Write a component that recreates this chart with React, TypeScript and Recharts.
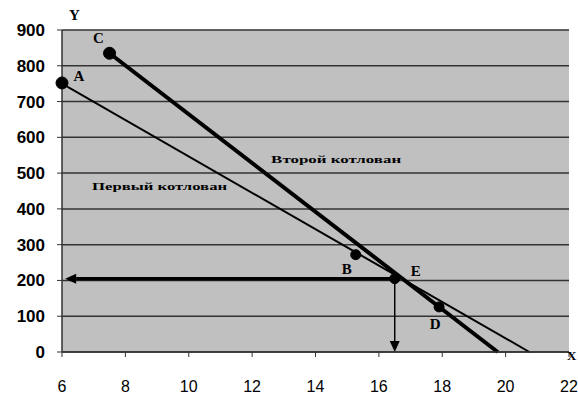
import React from 'react';
import {
  ComposedChart,
  Line,
  XAxis,
  YAxis,
  CartesianGrid,
  ReferenceDot,
  ReferenceLine,
} from 'recharts';

// two excavation lines (x, y end points)
const firstX = [6, 20.75];
const firstY = [750, 0];
const secondX = [7.5, 19.75];
const secondY = [835, 0];

// named points
const pointNames = ['A', 'B', 'C', 'D', 'E'];
const pointX = [6, 15.27, 7.5, 17.9, 16.5];
const pointY = [752, 272, 835, 126, 205];

const xTicks = [6, 8, 10, 12, 14, 16, 18, 20, 22];
const yTicks = [0, 100, 200, 300, 400, 500, 600, 700, 800, 900];

const firstData = firstX.map((x, i) => ({ x, y: firstY[i] }));
const secondData = secondX.map((x, i) => ({ x, y: secondY[i] }));

const labelOffset: Record<string, { dx: number; dy: number }> = {
  A: { dx: 17, dy: -5 },
  B: { dx: -9, dy: 16 },
  C: { dx: -11, dy: -14 },
  D: { dx: -4, dy: 19 },
  E: { dx: 21, dy: -6 },
};
const dotRadius: Record<string, number> = { A: 6, B: 5, C: 6, D: 5, E: 5 };

const serif = '"Liberation Serif", "DejaVu Serif", serif';
const sans = '"Liberation Sans", Arial, sans-serif';

const PointLabel = (name: string) => (props: any) => {
  const { viewBox } = props;
  const cx = viewBox.x + viewBox.width / 2;
  const cy = viewBox.y + viewBox.height / 2;
  const o = labelOffset[name];
  return (
    <text
      x={cx + o.dx}
      y={cy + o.dy}
      textAnchor="middle"
      dominantBaseline="middle"
      fontFamily={serif}
      fontWeight="bold"
      fontSize={15}
      fill="#000"
    >
      {name}
    </text>
  );
};

const TextLabel = (value: string, dx: number, dy: number, size: number, len?: number) => (props: any) => {
  const { viewBox } = props;
  const cx = viewBox.x + viewBox.width / 2;
  const cy = viewBox.y + viewBox.height / 2;
  return (
    <text
      x={cx + dx}
      y={cy + dy}
      textAnchor="start"
      dominantBaseline="middle"
      fontFamily={serif}
      fontWeight="bold"
      fontSize={size}
      fill="#000"
      textLength={len}
      lengthAdjust={len ? 'spacingAndGlyphs' : undefined}
    >
      {value}
    </text>
  );
};

const Arrow = (width: number) => (props: any) => {
  const { x1, y1, x2, y2 } = props;
  const ang = Math.atan2(y2 - y1, x2 - x1);
  const len = 11;
  const half = 5;
  const bx = x2 - len * Math.cos(ang);
  const by = y2 - len * Math.sin(ang);
  const px = -Math.sin(ang) * half;
  const py = Math.cos(ang) * half;
  return (
    <g>
      <line x1={x1} y1={y1} x2={bx} y2={by} stroke="#000" strokeWidth={width} />
      <polygon points={`${x2},${y2} ${bx + px},${by + py} ${bx - px},${by - py}`} fill="#000" />
    </g>
  );
};

export default function App() {
  return (
    <div style={{ position: 'absolute', left: 0, top: 0, background: '#fff' }}>
      <ComposedChart width={578} height={394} margin={{ top: 30, right: 9, bottom: 0, left: 0 }}>
        <CartesianGrid vertical={false} fill="#c0c0c0" stroke="#333" strokeWidth={1.5} />
        <XAxis
          type="number"
          dataKey="x"
          domain={[6, 22]}
          ticks={xTicks}
          allowDataOverflow
          height={42}
          tickSize={5}
          tickMargin={24}
          axisLine={{ stroke: '#333', strokeWidth: 1.5 }}
          tickLine={{ stroke: '#333' }}
          tick={{ fill: '#000', fontSize: 16, fontFamily: sans }}
        />
        <YAxis
          type="number"
          dataKey="y"
          domain={[0, 900]}
          ticks={yTicks}
          width={62}
          tickSize={5}
          tickMargin={12}
          axisLine={{ stroke: '#333', strokeWidth: 1.5 }}
          tickLine={{ stroke: '#333' }}
          tick={{ fill: '#000', fontSize: 17, fontWeight: 'bold', fontFamily: sans }}
        />
        <Line
          data={firstData}
          dataKey="y"
          stroke="#000"
          strokeWidth={2}
          dot={false}
          isAnimationActive={false}
        />
        <Line
          data={secondData}
          dataKey="y"
          stroke="#000"
          strokeWidth={4}
          dot={false}
          isAnimationActive={false}
        />
        <ReferenceLine
          segment={[{ x: 16.5, y: 205 }, { x: 6.1, y: 205 }]}
          ifOverflow="visible"
          shape={Arrow(3.5)}
        />
        <ReferenceLine
          segment={[{ x: 16.5, y: 205 }, { x: 16.5, y: 0 }]}
          ifOverflow="visible"
          shape={Arrow(1.5)}
        />
        {pointNames.map((name, i) => (
          <ReferenceDot
            key={name}
            x={pointX[i]}
            y={pointY[i]}
            r={dotRadius[name]}
            fill="#000"
            stroke="#000"
            ifOverflow="visible"
            label={PointLabel(name)}
          />
        ))}
        <ReferenceDot x={12.6} y={536} r={0} ifOverflow="visible" label={TextLabel('Второй котлован', 0, 0, 11, 130)} />
        <ReferenceDot x={6.95} y={461} r={0} ifOverflow="visible" label={TextLabel('Первый котлован', 0, 0, 11, 135)} />
        <ReferenceDot x={6} y={900} r={0} ifOverflow="visible" label={TextLabel('Y', 7, -13, 15)} />
        <ReferenceDot x={22} y={0} r={0} ifOverflow="visible" label={TextLabel('X', -2, 5, 13)} />
      </ComposedChart>
    </div>
  );
}
